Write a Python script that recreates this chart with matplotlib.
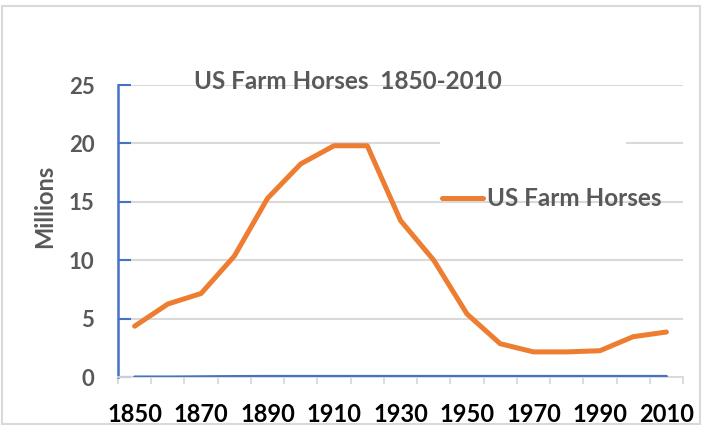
import matplotlib
matplotlib.use('Agg')
import matplotlib.pyplot as plt
from matplotlib.patches import Rectangle
import numpy as np

years = [1850, 1860, 1870, 1880, 1890, 1900, 1910, 1920, 1930,
         1940, 1950, 1960, 1970, 1980, 1990, 2000, 2010]
horses = [4.35, 6.25, 7.15, 10.35, 15.3, 18.25, 19.8, 19.8, 13.4,
          10.0, 5.4, 2.85, 2.15, 2.15, 2.25, 3.45, 3.85]
# second (unlabelled) series sitting on the baseline
other = [0.0, 0.0, 0.02, 0.04, 0.05, 0.05, 0.05, 0.05, 0.05,
         0.05, 0.05, 0.05, 0.05, 0.05, 0.05, 0.05, 0.05]
yticks = [0, 5, 10, 15, 20, 25]

plt.rcParams['font.family'] = ['Lato', 'DejaVu Sans']

W, H = 702, 425
fig = plt.figure(figsize=(W / 100, H / 100), dpi=100)
ax = fig.add_axes([118 / W, 1 - 377 / H, (683 - 118) / W, (377 - 85) / H])

x = np.arange(len(years))
ax.plot(x, other, color='#4472C4', linewidth=2.2, solid_capstyle='round', zorder=3)
ax.plot(x, horses, color='#ED7D31', linewidth=3.6, solid_capstyle='round',
        solid_joinstyle='round', label='US Farm Horses', zorder=4)

ax.set_xlim(-0.5, len(years) - 0.5)
ax.set_ylim(0, 25)
ax.set_yticks(yticks)
ax.set_yticklabels([str(v) for v in yticks])
ax.grid(axis='y', color='#d9d9d9', linewidth=1.5, zorder=0)
ax.set_axisbelow(True)

# gap in the 20 gridline
ax.add_patch(Rectangle((9.19, 19.7), 5.59, 0.6, facecolor='white',
                       edgecolor='none', zorder=1))

ax.set_xticks(x[::2])
ax.set_xticklabels([str(y) for y in years[::2]])
ax.set_xticks(np.arange(-0.5, len(years)), minor=True)
ax.tick_params(axis='x', which='major', length=0, pad=19, labelsize=17,
               labelcolor='black')
ax.tick_params(axis='x', which='minor', length=5, width=1.3, color='#d9d9d9')
ax.tick_params(axis='y', direction='in', length=9, width=1.5, color='#4472C4',
               pad=17, labelsize=16, labelcolor='#595959')
for lab in ax.get_xticklabels() + ax.get_yticklabels():
    lab.set_fontweight('bold')

for s in ['top', 'right']:
    ax.spines[s].set_visible(False)
ax.spines['left'].set_color('#4472C4')
ax.spines['left'].set_linewidth(1.8)
ax.spines['bottom'].set_color('#d9d9d9')
ax.spines['bottom'].set_linewidth(1.3)

leg = ax.legend(loc='center left', bbox_to_anchor=((442 - 118) / 565, 1 - (199 - 85) / 292),
                frameon=False, fontsize=17.5, handlelength=1.7, handletextpad=0.15,
                borderaxespad=0, borderpad=0)
for t in leg.get_texts():
    t.set_color('#595959')
    t.set_fontweight('bold')

fig.text(347.5 / W, 1 - 89 / H, 'US Farm Horses  1850-2010', ha='center', va='baseline',
         fontsize=17.5, fontweight='bold', color='#595959')
fig.text(45 / W, 1 - 206 / H, 'Millions', rotation=90, ha='center', va='center',
         fontsize=17, fontweight='bold', color='#595959')

fig.add_artist(Rectangle((1.5 / W, 1 - 424 / H), 698 / W, 418 / H, transform=fig.transFigure,
                         facecolor='none', edgecolor='#d9d9d9', linewidth=1.5))

fig.savefig('out.png', dpi=100)
